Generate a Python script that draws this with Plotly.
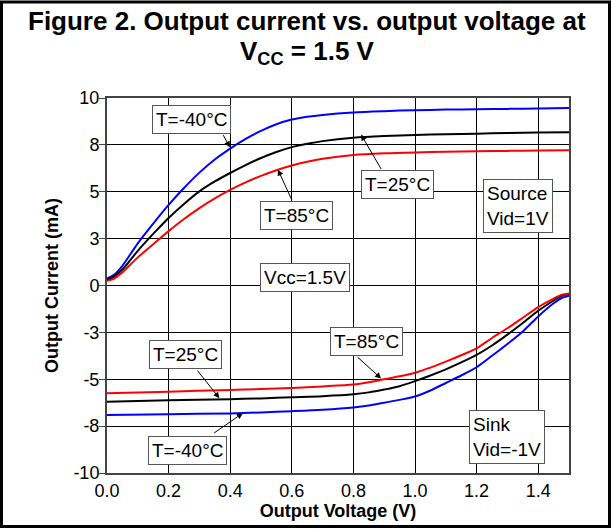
import plotly.graph_objects as go

# ---- data ----
src_x = [0, 0.025, 0.05, 0.1, 0.15, 0.2, 0.25, 0.3, 0.35, 0.4, 0.45, 0.5, 0.55, 0.6,
         0.65, 0.7, 0.8, 0.9, 1.0, 1.1, 1.2, 1.3, 1.4, 1.5]
src_m40 = [0.38, 0.6, 1.05, 2.25, 3.3, 4.3, 5.2, 6.02, 6.72, 7.3, 7.82, 8.25, 8.6, 8.85,
           9.0, 9.1, 9.23, 9.3, 9.35, 9.38, 9.4, 9.42, 9.44, 9.46]
src_25 = [0.3, 0.5, 0.85, 1.85, 2.75, 3.6, 4.35, 5.02, 5.55, 6.0, 6.42, 6.8, 7.12, 7.38,
          7.56, 7.7, 7.88, 7.97, 8.03, 8.07, 8.1, 8.13, 8.16, 8.18]
src_85 = [0.25, 0.38, 0.7, 1.5, 2.2, 2.9, 3.55, 4.13, 4.65, 5.1, 5.5, 5.85, 6.15, 6.4,
          6.6, 6.76, 6.96, 7.05, 7.1, 7.13, 7.16, 7.18, 7.2, 7.22]

snk_x = [0, 0.2, 0.4, 0.5, 0.6, 0.7, 0.8, 0.85, 0.9, 0.95, 1.0, 1.05, 1.1, 1.15, 1.2,
         1.25, 1.3, 1.35, 1.4, 1.45, 1.475, 1.5]
snk_m40 = [-6.9, -6.86, -6.82, -6.77, -6.7, -6.62, -6.5, -6.4, -6.25, -6.1, -5.92, -5.6,
           -5.2, -4.8, -4.36, -3.75, -3.12, -2.45, -1.65, -0.95, -0.68, -0.55]
snk_25 = [-6.2, -6.12, -6.06, -6.02, -5.96, -5.9, -5.8, -5.7, -5.55, -5.37, -5.1, -4.8,
          -4.47, -4.1, -3.7, -3.2, -2.62, -2.0, -1.35, -0.8, -0.55, -0.45]
snk_85 = [-5.75, -5.66, -5.57, -5.52, -5.46, -5.38, -5.28, -5.16, -5.0, -4.84, -4.65, -4.38,
          -4.06, -3.72, -3.35, -2.8, -2.28, -1.72, -1.15, -0.7, -0.5, -0.42]

x_ticks = [0, 0.2, 0.4, 0.6, 0.8, 1.0, 1.2, 1.4]
x_ticktext = ["0.0", "0.2", "0.4", "0.6", "0.8", "1.0", "1.2", "1.4"]
y_ticks = [-10, -7.5, -5, -2.5, 0, 2.5, 5, 7.5, 10]
y_ticktext = ["-10", "-8", "-5", "-3", "0", "3", "5", "8", "10"]

FONT = "Liberation Sans, Arial, sans-serif"

fig = go.Figure()
series = [
    (src_x, src_m40, "#0000FF"), (src_x, src_25, "#000000"), (src_x, src_85, "#FF0000"),
    (snk_x, snk_m40, "#0000FF"), (snk_x, snk_25, "#000000"), (snk_x, snk_85, "#FF0000"),
]
for xs, ys, c in series:
    fig.add_trace(go.Scatter(x=xs, y=ys, mode="lines", line=dict(color=c, width=2),
                             line_shape="spline", line_smoothing=0.8,
                             showlegend=False, hoverinfo="skip"))

# text boxes: (text, x, y, align)
boxes = [
    ("T=-40°C", 0.274, 8.84, "center"),
    ("T=25°C", 0.942, 5.38, "center"),
    ("T=85°C", 0.615, 3.72, "center"),
    ("Source<br>Vid=1V", 1.333, 4.23, "left"),
    ("Vcc=1.5V", 0.644, 0.44, "center"),
    ("T=25°C", 0.256, -3.67, "center"),
    ("T=85°C", 0.841, -2.98, "center"),
    ("T=-40°C", 0.261, -8.80, "center"),
    ("Sink<br>Vid=-1V", 1.298, -8.06, "left"),
]
for t, bx, by, al in boxes:
    fig.add_annotation(x=bx, y=by, text=t, showarrow=False, align=al,
                       font=dict(family=FONT, size=19, color="black"),
                       bgcolor="white", bordercolor="#555555", borderwidth=1, borderpad=3)

# arrows: (head x, head y, tail x, tail y)
arrows = [
    (0.399, 7.36, 0.375, 8.10),
    (0.825, 8.05, 0.893, 6.13),
    (0.555, 6.18, 0.602, 4.49),
    (0.365, -6.01, 0.290, -4.46),
    (0.890, -4.96, 0.809, -3.75),
    (0.441, -6.81, 0.343, -7.92),
]
for hx, hy, tx, ty in arrows:
    fig.add_annotation(x=hx, y=hy, ax=tx, ay=ty, axref="x", ayref="y", text="",
                       showarrow=True, arrowhead=2, arrowsize=1.2, arrowwidth=1,
                       arrowcolor="black", standoff=0)

W, H = 612, 529
L, R, T, B = 107, 43, 98, 56
pw, ph = W - L - R, H - T - B

# title lines as annotations (pixel-placed)
fig.add_annotation(xref="paper", yref="paper", x=(307 - L) / pw, y=(H - B - 21) / ph,
                   xanchor="center", yanchor="middle", showarrow=False,
                   text="<b>Figure 2. Output current vs. output voltage at</b>",
                   font=dict(family=FONT, size=26, color="black"))
fig.add_annotation(xref="paper", yref="paper", x=(307 - L) / pw, y=(H - B - 53) / ph,
                   xanchor="center", yanchor="middle", showarrow=False,
                   text="<b>V<sub>CC</sub> = 1.5 V</b>",
                   font=dict(family=FONT, size=26, color="black"))

# outer frame
fig.add_shape(type="rect", xref="paper", yref="paper",
              x0=(1.5 - L) / pw, x1=(W - 2.5 - L) / pw,
              y0=(H - B - (H - 2.5)) / ph, y1=(H - B - 2) / ph,
              line=dict(color="black", width=3), fillcolor="rgba(0,0,0,0)", layer="above")

fig.update_layout(
    width=W, height=H,
    margin=dict(l=L, r=R, t=T, b=B),
    paper_bgcolor="white", plot_bgcolor="white",
    font=dict(family=FONT, size=18, color="black"),
)
fig.update_xaxes(range=[0, 1.5], tickvals=x_ticks, ticktext=x_ticktext,
                 showgrid=True, gridcolor="black", gridwidth=1.3,
                 showline=True, linecolor="#444444", linewidth=2, mirror=True,
                 ticks="", zeroline=False,
                 title=dict(text="<b>Output Voltage (V)</b>", standoff=2,
                            font=dict(family=FONT, size=18)),
                 tickfont=dict(family=FONT, size=18))
fig.update_yaxes(range=[-10, 10], tickvals=y_ticks, ticktext=y_ticktext,
                 showgrid=True, gridcolor="black", gridwidth=1.3,
                 showline=True, linecolor="#444444", linewidth=2, mirror=True,
                 ticks="outside", ticklen=6, tickcolor="#444444", zeroline=False,
                 ticklabelstandoff=-4,
                 title=dict(text="<b>Output Current (mA)</b>", standoff=10,
                            font=dict(family=FONT, size=18)),
                 tickfont=dict(family=FONT, size=18))

fig.write_html("out.html", config={"displayModeBar": False},
               post_script="document.body.style.margin='0';document.body.style.padding='0';")
